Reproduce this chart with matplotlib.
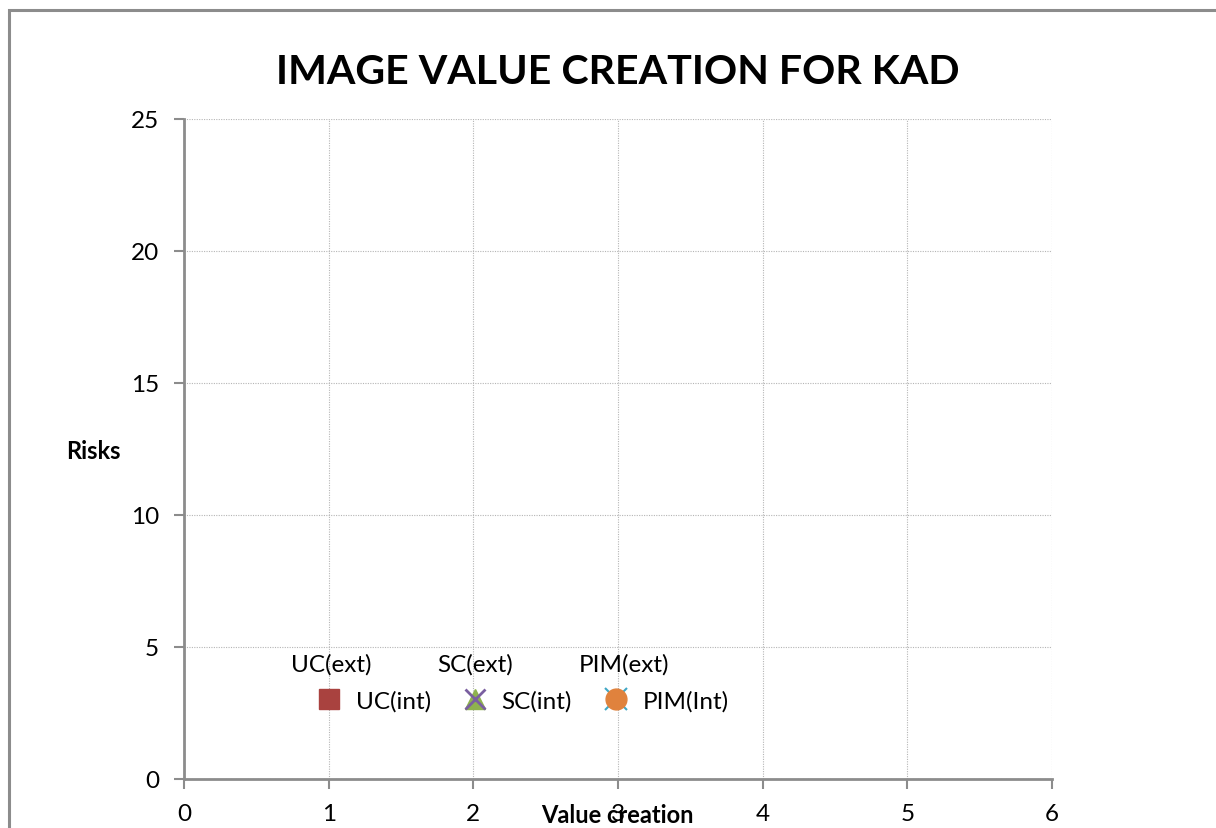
import matplotlib.pyplot as plt
from matplotlib.patches import Rectangle

plt.rcParams['font.family'] = ['Lato', 'DejaVu Sans']

# series in the chart (no points entered yet)
ext_names = ['UC(ext)', 'SC(ext)', 'PIM(ext)']
int_names = ['UC(int)', 'SC(int)', 'PIM(Int)']
uc_x, uc_y = [], []
sc_x, sc_y = [], []
pim_x, pim_y = [], []

x_ticks = [0, 1, 2, 3, 4, 5, 6]
y_ticks = [0, 5, 10, 15, 20, 25]

fig = plt.figure(figsize=(12.16, 8.29), dpi=100)
ax = fig.add_axes([184/1216, 1-780/829, 868/1216, 660/829])

# outer chart border
fig.patches.append(Rectangle((9/1216, -0.1), 1.2, 1.1 - 11/829,
                             transform=fig.transFigure, fill=False,
                             edgecolor='#8c8c8c', linewidth=2.2))

ext_lines = []
for name in ext_names:
    l, = ax.plot([], [], linestyle='none', marker=None, label=name)
    ext_lines.append(l)

uc, = ax.plot(uc_x, uc_y, linestyle='none', marker='s', markersize=15,
              color='#A9423F', label=int_names[0])
sc_tri, = ax.plot(sc_x, sc_y, linestyle='none', marker='^', markersize=15,
                  color='#8EB24D')
sc_x_m, = ax.plot(sc_x, sc_y, linestyle='none', marker='x', markersize=15,
                  markeredgewidth=2, color='#7A5FA0')
pim_star, = ax.plot(pim_x, pim_y, linestyle='none', marker='x', markersize=16,
                    markeredgewidth=1.5, color='#3FA7C4')
pim_c, = ax.plot(pim_x, pim_y, linestyle='none', marker='o', markersize=15,
                 color='#E0823D')

ax.set_xlim(0, 6)
ax.set_ylim(0, 25)
ax.set_xticks(x_ticks)
ax.set_yticks(y_ticks)
ax.tick_params(labelsize=17.5, length=7, width=1.5, color='#8c8c8c')
ax.tick_params(axis='x', pad=10)
ax.tick_params(axis='y', pad=11)
ax.grid(True, linestyle=(0, (1, 1.2)), color='#b5b5b5', linewidth=0.8)
for s in ['top', 'right']:
    ax.spines[s].set_visible(False)
for s in ['left', 'bottom']:
    ax.spines[s].set_color('#8c8c8c')
    ax.spines[s].set_linewidth(2)
ax.set_axisbelow(True)

fig.text(618/1216, 1-73/829, 'IMAGE VALUE CREATION FOR KAD', ha='center',
         va='center', fontsize=29.6, fontweight='bold')
ax.set_ylabel('Risks', rotation=0, fontsize=17, fontweight='bold',
              va='center', ha='center', labelpad=0)
ax.yaxis.set_label_coords((93-184)/868, (780-452)/660)
ax.set_xlabel('Value creation', fontsize=17, fontweight='bold',
              va='center')
ax.xaxis.set_label_coords((617-184)/868, -(816-780)/660)

# external series: names only
leg1 = ax.legend(ext_lines, ext_names, ncol=3, frameon=False, fontsize=17.5,
                 handlelength=0, handletextpad=0, columnspacing=2.7,
                 loc='center left', bbox_to_anchor=((291-184)/868, (780-665)/660),
                 borderpad=0, borderaxespad=0)
ax.add_artist(leg1)
ax.legend([uc, (sc_tri, sc_x_m), (pim_star, pim_c)], int_names, ncol=3,
          frameon=False, fontsize=17.5, handlelength=1.0, handletextpad=0.6,
          columnspacing=1.3, loc='center left',
          bbox_to_anchor=((317-184)/868, (780-702)/660),
          borderpad=0, borderaxespad=0)

fig.savefig('out.png', dpi=100)
